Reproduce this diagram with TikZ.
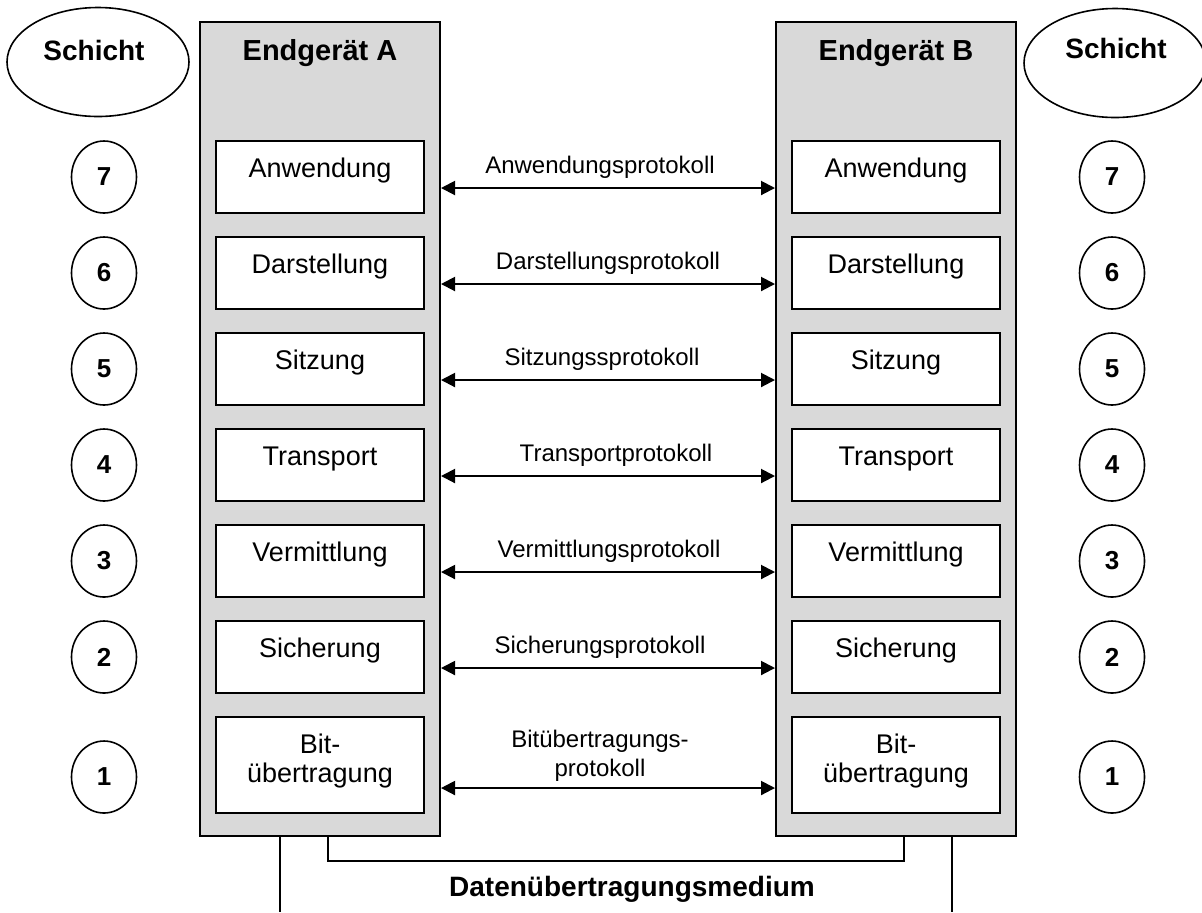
\documentclass[tikz,border=0pt]{standalone}
\usepackage{fontspec}
\setmainfont{Liberation Sans}
\usetikzlibrary{arrows.meta,shapes.geometric}

\begin{document}
\begin{tikzpicture}[x=0.5pt,y=-0.5pt,
        device/.style={draw,line width=1pt,fill=black!15,minimum width=120pt,minimum height=407pt,inner sep=0pt},
        devtitle/.style={anchor=base,font=\fontsize{14.5}{17}\selectfont\bfseries},
        layerbox/.style={draw,line width=1pt,fill=white,minimum width=104pt,minimum height=36pt,text height=5pt,text depth=5pt,font=\fontsize{13.5}{14.5}\selectfont},
        layernum/.style={draw,ellipse,line width=0.8pt,minimum width=32.5pt,minimum height=36pt,inner sep=0pt,font=\fontsize{13}{15}\selectfont\bfseries},
        schicht/.style={draw,ellipse,line width=0.8pt,minimum width=91pt,minimum height=54.5pt,inner sep=0pt},
        headtext/.style={anchor=base,font=\fontsize{14}{16}\selectfont\bfseries},
        protolabel/.style={anchor=base,font=\fontsize{12}{14.5}\selectfont},
        protoarrow/.style={{Triangle[length=7pt,width=7pt]}-{Triangle[length=7pt,width=7pt]},line width=1pt},
        wire/.style={line width=0.8pt}]
        \useasboundingbox (0,0) rectangle (1202,912);
        % Schicht
        \node[schicht] (schichtL) at (98,62) {};
        \node[headtext] (schichtLtext) at (94,60) {Schicht};
        \node[schicht] (schichtR) at (1115,63) {};
        \node[headtext] (schichtRtext) at (1116,58) {Schicht};
        % Endgeraete
        \node[device] (devA) at (320,429) {};
        \node[device] (devB) at (896,429) {};
        \node[devtitle] (titleA) at (320,60) {Endgerät A};
        \node[devtitle] (titleB) at (896,60) {Endgerät B};
        % Schichten 7 bis 2
        \foreach \n/\name/\proto/\px in {7/Anwendung/Anwendungsprotokoll/600,
                6/Darstellung/Darstellungsprotokoll/608,
                5/Sitzung/Sitzungssprotokoll/602,
                4/Transport/Transportprotokoll/616,
                3/Vermittlung/Vermittlungsprotokoll/609,
                2/Sicherung/Sicherungsprotokoll/600}{
            \pgfmathsetmacro{\yc}{177+(7-\n)*96}
            \node[layerbox] (A\n) at (320,\yc) {\name};
            \node[layerbox] (B\n) at (896,\yc) {\name};
            \node[layernum] (numL\n) at (104,\yc) {\n};
            \node[layernum] (numR\n) at (1112,\yc) {\n};
            \coordinate (arr\n) at (608,\yc+11);
            \draw[protoarrow] (devA.east |- arr\n) -- (devB.west |- arr\n);
            \node[protolabel] (proto\n) at (\px,\yc-4) {\proto};
        }
        % Schicht 1
        \node[layerbox,minimum height=48pt] (A1) at (320,765) {};
        \node[layerbox,minimum height=48pt] (B1) at (896,765) {};
        \node[align=center,font=\fontsize{13.5}{14.5}\selectfont] (A1text) at (320,761) {Bit-\\übertragung};
        \node[align=center,font=\fontsize{13.5}{14.5}\selectfont] (B1text) at (896,761) {Bit-\\übertragung};
        \node[layernum] (numL1) at (104,777) {1};
        \node[layernum] (numR1) at (1112,777) {1};
        \coordinate (arr1) at (608,788);
        \draw[protoarrow] (devA.east |- arr1) -- (devB.west |- arr1);
        \node[align=center,font=\fontsize{12}{14.5}\selectfont] (proto1) at (600,756) {Bitübertragungs-\\protokoll};
        % Medium
        \coordinate (mediumL) at (280,912);
        \coordinate (mediumR) at (952,912);
        \coordinate (busL) at (328,861);
        \coordinate (busR) at (904,861);
        \draw[wire] (devA.south -| mediumL) -- (mediumL);
        \draw[wire] (devB.south -| mediumR) -- (mediumR);
        \draw[wire] (devA.south -| busL) -- (busL) -- (busR) -- (devB.south -| busR);
        \node[headtext] (medium) at (632,896) {Datenübertragungsmedium};
    \end{tikzpicture}
\end{document}
